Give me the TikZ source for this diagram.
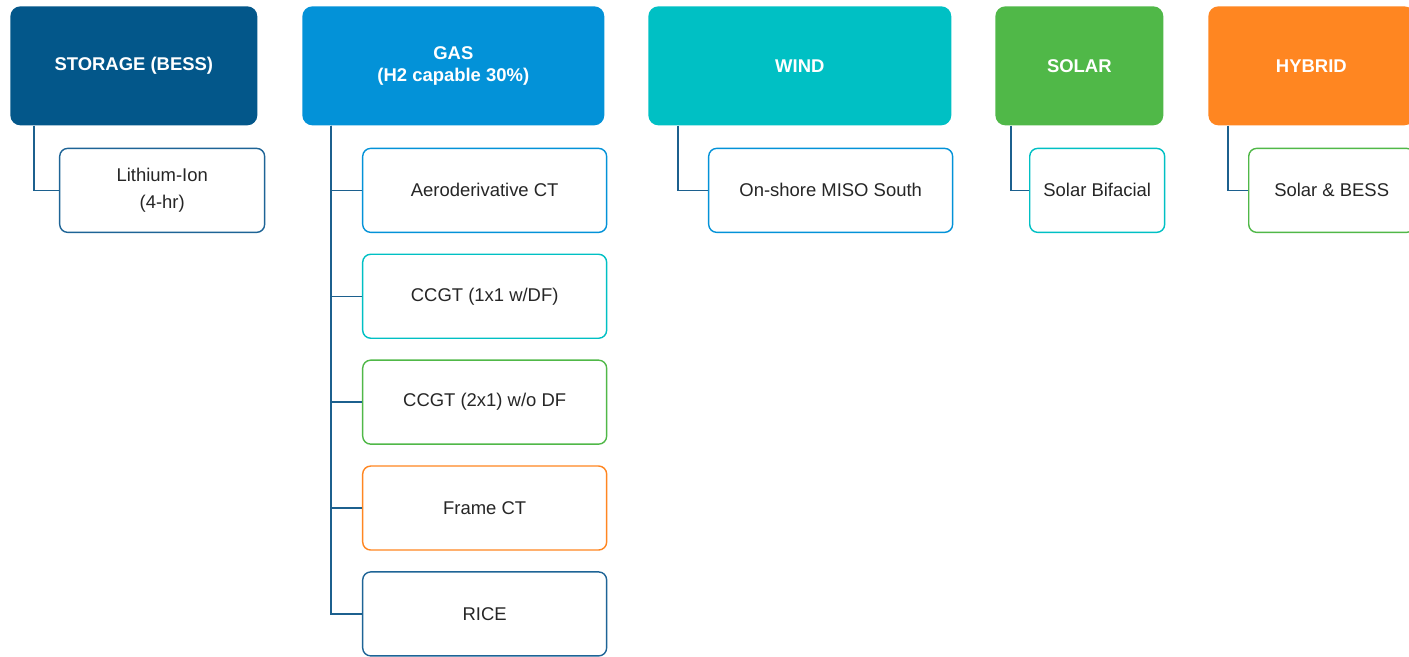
\documentclass[tikz,border=0pt]{standalone}
\usepackage{fontspec}
\setmainfont{Liberation Sans}
\usetikzlibrary{positioning}

\definecolor{storageblue}{RGB}{3,87,138}
\definecolor{gasblue}{RGB}{3,146,216}
\definecolor{windteal}{RGB}{0,192,196}
\definecolor{solargreen}{RGB}{80,184,72}
\definecolor{hybridorange}{RGB}{255,134,33}
\definecolor{itemblue}{RGB}{30,100,150}
\definecolor{linkblue}{RGB}{28,96,142}

\begin{document}
\begin{tikzpicture}[
    x=0.02cm, y=-0.02cm,
    header/.style={
        rectangle,
        rounded corners=0.2cm,
        anchor=north west,
        align=center,
        text=white,
        minimum height=2.38cm,
        inner sep=0pt,
        font=\fontsize{10.5}{12.6}\selectfont\bfseries
    },
    item/.style={
        rectangle,
        rounded corners=0.16cm,
        draw,
        line width=0.8pt,
        fill=white,
        align=center,
        text=black!85,
        minimum height=1.68cm,
        inner sep=0pt,
        font=\fontsize{10.5}{12.6}\selectfont
    },
    link/.style={draw=linkblue, line width=0.8pt}
]
\useasboundingbox (0,0) rectangle (1409,656);

% categories
\node[header, fill=storageblue, minimum width=4.94cm] (storage) at (10,6) {STORAGE (BESS)};
\node[header, fill=gasblue, minimum width=6.04cm] (gas) at (302,6) {GAS\\(H2 capable 30\%)};
\node[header, fill=windteal, minimum width=6.06cm] (wind) at (648,6) {WIND};
\node[header, fill=solargreen, minimum width=3.36cm] (solar) at (995,6) {SOLAR};
\node[header, fill=hybridorange, minimum width=4.12cm] (hybrid) at (1208,6) {HYBRID};

% technologies
\node[item, draw=itemblue, minimum width=4.1cm, below right=0.44cm and 0.98cm of storage.south west] (lithium) {Lithium-Ion\\[3pt](4-hr)};

\node[item, draw=gasblue, minimum width=4.88cm, below right=0.44cm and 1.2cm of gas.south west] (aero) {Aeroderivative CT};
\node[item, draw=windteal, minimum width=4.88cm, below=0.41cm of aero] (ccgtone) {CCGT (1x1 w/DF)};
\node[item, draw=solargreen, minimum width=4.88cm, below=0.41cm of ccgtone] (ccgttwo) {CCGT (2x1) w/o DF};
\node[item, draw=hybridorange, minimum width=4.88cm, below=0.41cm of ccgttwo] (frame) {Frame CT};
\node[item, draw=itemblue, minimum width=4.88cm, below=0.41cm of frame] (rice) {RICE};

\node[item, draw=gasblue, minimum width=4.88cm, below right=0.44cm and 1.2cm of wind.south west] (onshore) {On-shore MISO South};
\node[item, draw=windteal, minimum width=2.7cm, below right=0.44cm and 0.68cm of solar.south west] (bifacial) {Solar Bifacial};
\node[item, draw=solargreen, minimum width=3.32cm, below right=0.44cm and 0.8cm of hybrid.south west] (solarbess) {Solar \& BESS};

% connectors
\draw[link] ([xshift=0.48cm]storage.south west) |- (lithium.west);
\foreach \tech in {aero, ccgtone, ccgttwo, frame, rice}
    \draw[link] ([xshift=0.58cm]gas.south west) |- (\tech.west);
\draw[link] ([xshift=0.6cm]wind.south west) |- (onshore.west);
\draw[link] ([xshift=0.32cm]solar.south west) |- (bifacial.west);
\draw[link] ([xshift=0.4cm]hybrid.south west) |- (solarbess.west);
\end{tikzpicture}
\end{document}
